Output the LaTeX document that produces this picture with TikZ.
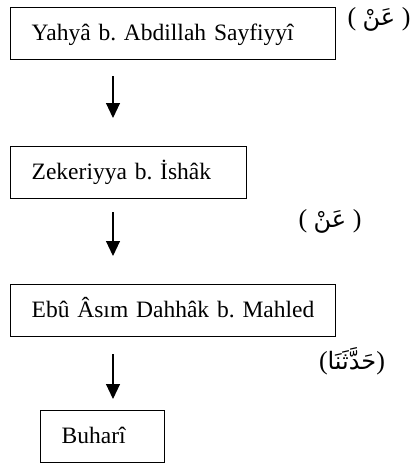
\documentclass[tikz,border=0pt]{standalone}
\usepackage{fontspec}
\setmainfont{Liberation Serif}
\newfontfamily\arabicfont[Script=Arabic]{DejaVu Sans}
\TeXXeTstate=1
\frenchspacing
\usetikzlibrary{arrows.meta}
\newcommand\arabictext[1]{{\arabicfont\fontsize{24}{28}\selectfont\beginR #1\endR}}
\begin{document}
\begin{tikzpicture}[x=1pt,y=-1pt,
  box/.style={draw,line width=1.4pt,anchor=north west,minimum height=52pt,
    inner xsep=21pt,inner ysep=0pt,align=left,text height=16pt,text depth=3pt,
    font=\fontsize{23.5}{27}\selectfont},
  arr/.style={line width=1.1pt,-{Triangle[width=14pt,length=15pt]}},
  lab/.style={font=\fontsize{26}{30}\selectfont,inner sep=0pt}]
\useasboundingbox (0,0) rectangle (420,464);
\node[box,text width=283pt] (b1) at (10,7) {Yahyâ b. Abdillah Sayfiyyî};
\node[box,text width=194pt] (b2) at (10,146) {Zekeriyya b. İshâk};
\node[box,text width=283pt] (b3) at (10,284) {Ebû Âsım Dahhâk b. Mahled};
\node[box,text width=82pt] (b4) at (40,410) {Buharî};
\coordinate (a1s) at (113,76); \coordinate (a1e) at (113,118);
\coordinate (a2s) at (113,212); \coordinate (a2e) at (113,256);
\coordinate (a3s) at (113,354); \coordinate (a3e) at (113,399);
\draw[arr] (a1s) -- (a1e);
\draw[arr] (a2s) -- (a2e);
\draw[arr] (a3s) -- (a3e);
\node[lab] (l1) at (379,19) {( \arabictext{عَنْ} )};
\node[lab] (l2) at (330,221) {( \arabictext{عَنْ} )};
\node[lab] (l3) at (352,361) {(\arabictext{حَدَّثَنَا})};
\end{tikzpicture}
\end{document}
